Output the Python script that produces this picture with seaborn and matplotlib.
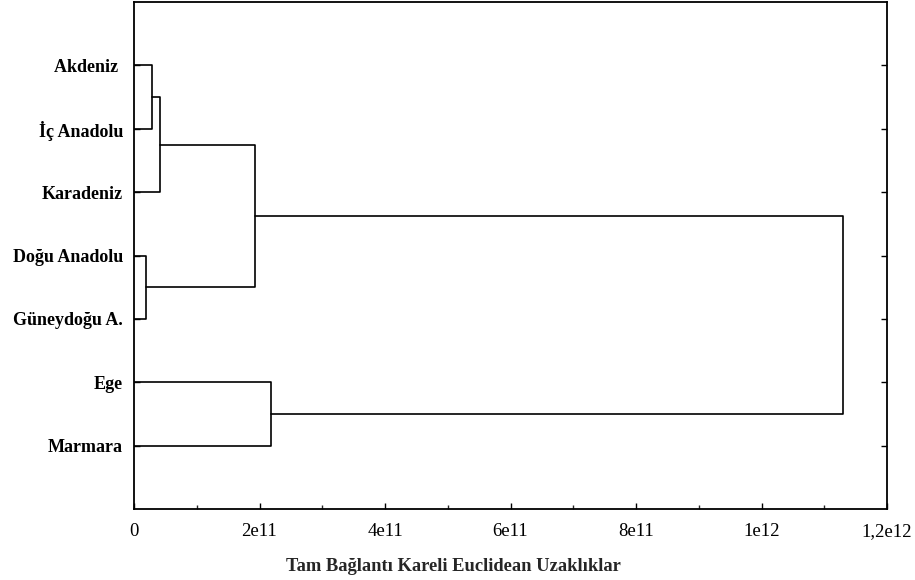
import matplotlib
matplotlib.use("Agg")
import matplotlib.pyplot as plt
import seaborn as sns
import pandas as pd
from matplotlib.ticker import MultipleLocator, FixedLocator

# Data
labels = ["Akdeniz ", "İç Anadolu", "Karadeniz", "Doğu Anadolu", "Güneydoğu A.", "Ege", "Marmara"]
merge_left = [0, 7, 3, 8, 5, 10]
merge_right = [1, 2, 4, 9, 6, 11]
merge_height = [2.9e10, 4.1e10, 1.9e10, 1.93e11, 2.18e11, 1.13e12]
xticks = [0, 2e11, 4e11, 6e11, 8e11, 1e12, 1.2e12]
xtick_labels = ["0", "2e11", "4e11", "6e11", "8e11", "1e12", "1,2e12"]
xlabel = "Tam Bağlantı Kareli Euclidean Uzaklıklar"

sns.set_theme(style="white")
plt.rcParams['font.family'] = ['Liberation Serif', 'DejaVu Serif']

# node positions
n = len(labels)
ypos = {i: i + 1 for i in range(n)}
hpos = {i: 0.0 for i in range(n)}
rows = []
for k, (a, b, h) in enumerate(zip(merge_left, merge_right, merge_height)):
    node = n + k
    pts = [(hpos[a], ypos[a]), (h, ypos[a]), (h, ypos[b]), (hpos[b], ypos[b])]
    for j, (x, y) in enumerate(pts):
        rows.append({"x": x, "y": y, "seg": k, "order": j})
    ypos[node] = (ypos[a] + ypos[b]) / 2
    hpos[node] = h
df = pd.DataFrame(rows)

fig = plt.figure(figsize=(9.15, 5.8), dpi=100)
ax = fig.add_axes([134/915, 1 - 509/580, (887-134)/915, (509-2)/580])
sns.lineplot(data=df, x="x", y="y", units="seg", estimator=None, sort=False,
             color="black", linewidth=1.2, ax=ax)

ax.set_xlim(0, 1.2e12)
ax.set_ylim(n + 1, 0)
ax.xaxis.set_major_locator(FixedLocator(xticks))
ax.set_xticklabels(xtick_labels, fontsize=13.5)
ax.xaxis.set_minor_locator(MultipleLocator(1e11))
ax.set_yticks(range(1, n + 1))
ax.set_yticklabels(labels, fontsize=13, fontweight="bold")
ax.set_xlabel(xlabel, fontsize=13.3, fontweight="bold")
ax.xaxis.set_label_coords(0.4236, -0.097)
ax.set_ylabel("")

for s in ax.spines.values():
    s.set_visible(True)
    s.set_color("black")
    s.set_linewidth(1.3)
ax.tick_params(axis="x", which="major", direction="in", length=4, width=1, bottom=True, top=False, pad=10, colors="black")
ax.tick_params(axis="x", which="minor", direction="in", length=3, width=1, bottom=True, top=False)
ax.tick_params(axis="y", which="major", direction="in", length=4, width=1, left=True, right=True, pad=8, colors="black")
ax.grid(False)
fig.savefig("out.png", dpi=100, facecolor="white")
